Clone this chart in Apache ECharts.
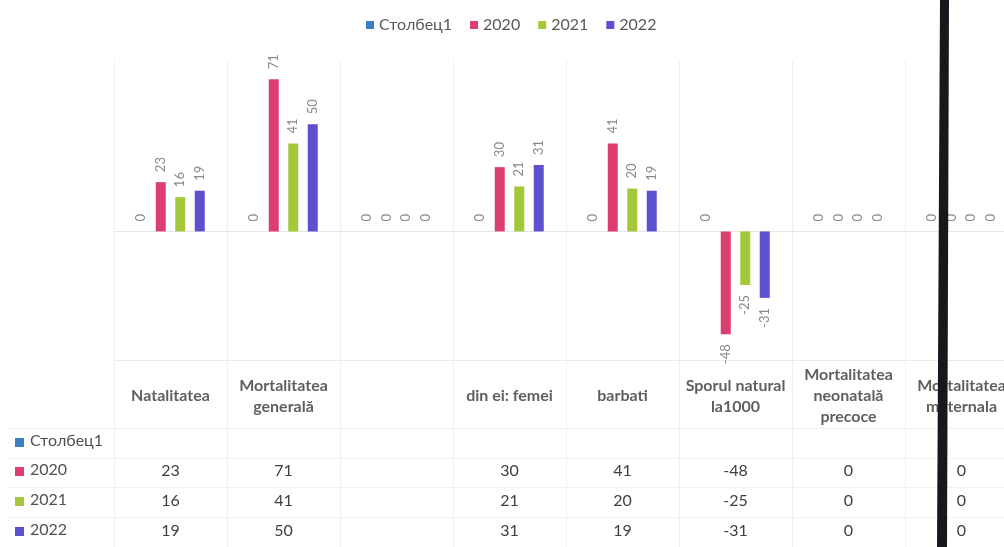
<!DOCTYPE html>
<html>
<head>
<meta charset="utf-8">
<script src="https://cdn.jsdelivr.net/npm/echarts@6/dist/echarts.min.js"></script>
<style>
html,body{margin:0;padding:0;background:#fff;overflow:hidden;width:1004px;height:547px;}
#c{width:1018px;height:547px;}
</style>
</head>
<body>
<div id="c"></div>
<script>
// ---- data ----
const categories = ['Natalitatea', 'Mortalitatea\ngenerală', '', 'din ei: femei', 'barbati', 'Sporul natural\nla1000', 'Mortalitatea\nneonatală\nprecoce', 'Mortalitatea\nmaternala'];
const seriesNames = ['Столбец1', '2020', '2021', '2022'];
const valsCol1 = [null, null, null, null, null, null, null, null];
const vals2020 = [23, 71, null, 30, 41, -48, 0, 0];
const vals2021 = [16, 41, null, 21, 20, -25, 0, 0];
const vals2022 = [19, 50, null, 31, 19, -31, 0, 0];
const allVals = [valsCol1, vals2020, vals2021, vals2022];
const colors = ['#3b7fc4', '#dc3f6f', '#a5c83b', '#5d4fd0'];

// ---- layout ----
const FONT = 'Lato, "Open Sans", sans-serif';
const plotLeft = 114;
const rowCenters = [442, 471, 501, 531];
const headerLine = 360;
const gridColor = '#f0f0f0';

const chart = echarts.init(document.getElementById('c'), null, {renderer: 'canvas'});

const xAxes = [
  { // main category axis at zero
    type: 'category', data: categories, gridIndex: 0,
    axisLine: {show: true, onZero: true, lineStyle: {color: '#e6e6e6'}},
    axisTick: {show: false}, axisLabel: {show: false},
    splitLine: {show: true, interval: 0, lineStyle: {color: gridColor}}
  },
  { // header labels of data table
    type: 'category', data: categories, gridIndex: 0, position: 'bottom',
    axisLine: {show: true, onZero: false, lineStyle: {color: '#ebebeb'}},
    axisTick: {show: false},
    axisLabel: {interval: 0, margin: 36, verticalAlign: 'middle', lineHeight: 21,
      fontFamily: FONT, fontSize: 16, fontWeight: 'bold', color: '#5f5f5f'}
  }
];
allVals.forEach((arr, r) => {
  xAxes.push({
    type: 'category', data: categories, gridIndex: 0, position: 'bottom',
    offset: rowCenters[r] - headerLine,
    axisLine: {show: false, onZero: false}, axisTick: {show: false},
    axisLabel: {interval: 0, margin: 0, verticalAlign: 'middle',
      fontFamily: FONT, fontSize: 16, color: '#404040',
      formatter: (v, i) => arr[i] == null ? '' : String(arr[i])}
  });
});
// table vertical lines
xAxes.push({
  type: 'category', data: categories, gridIndex: 1,
  axisLine: {show: false}, axisTick: {show: false}, axisLabel: {show: false},
  splitLine: {show: true, interval: 0, lineStyle: {color: gridColor}}
});
// table horizontal lines grid x
xAxes.push({type: 'value', gridIndex: 2, show: false, min: 0, max: 1});

const series = allVals.map((arr, s) => ({
  name: seriesNames[s], type: 'bar', xAxisIndex: 0, yAxisIndex: 0,
  barWidth: 10, barGap: '95%',
  itemStyle: {color: colors[s]},
  label: {show: true, rotate: 90, distance: 10,
    fontFamily: FONT, fontSize: 13, color: '#8a8a8a', verticalAlign: 'middle'},
  data: arr.map(v => {
    const val = v == null ? 0 : v;
    return {value: val, label: {position: val < 0 ? 'bottom' : 'top', align: val < 0 ? 'right' : 'left'}};
  })
}));

const graphic = [];
seriesNames.forEach((n, r) => {
  graphic.push({type: 'rect', left: 15, top: rowCenters[r] - 4, shape: {width: 9, height: 9}, style: {fill: colors[r]}});
  graphic.push({type: 'text', left: 30, top: rowCenters[r] - 9,
    style: {text: n, fill: '#505050', font: '16px ' + FONT}});
});
// dark photographic bar
graphic.push({type: 'polygon', z: 100, shape: {points: [[940, 0], [949, 0], [947, 547], [937, 547]]}, style: {fill: '#16181d'}});

chart.setOption({
  animation: false,
  backgroundColor: '#ffffff',
  legend: {
    data: seriesNames, top: 12, left: 361, icon: 'rect', itemWidth: 8, itemHeight: 8, itemGap: 18,
    selectedMode: false, textStyle: {color: '#595959', fontSize: 16, fontFamily: FONT}
  },
  grid: [
    {left: plotLeft, right: 0, top: 60, height: headerLine - 60, containLabel: false},
    {left: plotLeft, right: 0, top: headerLine, bottom: 0},
    {left: 8, right: 0, top: 428, height: 119}
  ],
  xAxis: xAxes,
  yAxis: [
    {type: 'value', gridIndex: 0, min: -60, max: 80, interval: 20, show: false, splitLine: {show: false}},
    {type: 'value', gridIndex: 1, show: false},
    {type: 'value', gridIndex: 2, min: 0, max: 4, interval: 1,
      axisLine: {show: false}, axisTick: {show: false}, axisLabel: {show: false},
      splitLine: {show: true, lineStyle: {color: gridColor}}}
  ],
  series: series,
  graphic: graphic
});
</script>
</body>
</html>
